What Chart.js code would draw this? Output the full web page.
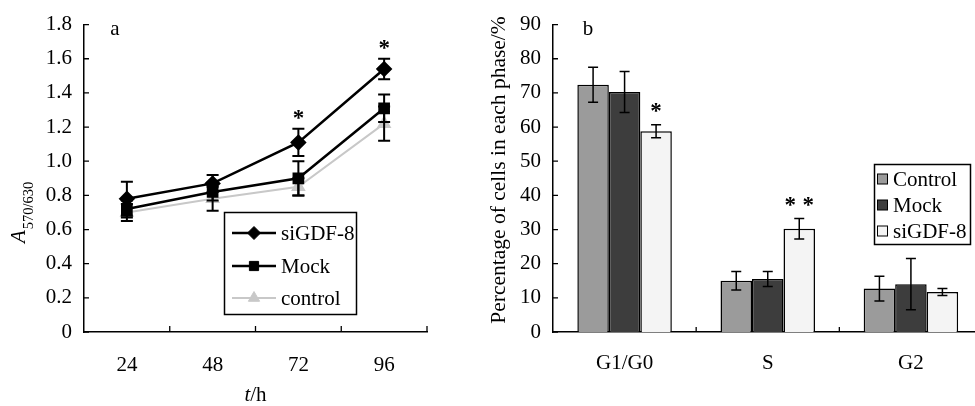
<!DOCTYPE html>
<html><head><meta charset="utf-8">
<script src="https://cdn.jsdelivr.net/npm/chart.js@4.4.0/dist/chart.umd.min.js"></script>
<style>
html,body{margin:0;padding:0;background:#fff;overflow:hidden;width:975px;height:406px;}
#wa{position:absolute;left:0;top:0;width:480px;height:406px;}
#wb{position:absolute;left:480px;top:0;width:510px;height:406px;}
</style></head><body>
<div id="wa"><canvas id="ca"></canvas></div>
<div id="wb"><canvas id="cb"></canvas></div>
<script>
// ---- Panel a data ----
const timeLabels = ['24','48','72','96'];
const siGDF8Line = [0.78, 0.87, 1.11, 1.54];
const siGDF8LineErr = [0.10, 0.05, 0.08, 0.06];
const mockLine = [0.72, 0.82, 0.90, 1.31];
const mockLineErr = [0.05, 0.05, 0.10, 0.08];
const controlLine = [0.70, 0.78, 0.85, 1.22];
const controlLineErr = [0.05, 0.07, 0.05, 0.10];
const lineStars = [[0, 2, 1], [0, 3, 1]]; // dataset, point, count

// ---- Panel b data ----
const phaseLabels = ['G1/G0', 'S', 'G2'];
const controlPct = [72.4, 15.0, 12.7];
const controlPctErr = [5.1, 2.7, 3.6];
const mockPct = [70.3, 15.5, 14.0];
const mockPctErr = [6.0, 2.2, 7.5];
const siGDF8Pct = [58.8, 30.2, 11.7];
const siGDF8PctErr = [1.9, 3.0, 1.0];
const barStars = [[2, 0, 1], [2, 1, 2]];

const FONT = "'Liberation Serif','Times New Roman',serif";
const FS = 21;
Chart.defaults.font.family = FONT;
Chart.defaults.color = '#000';

function drawErrBars(chart, cap, lw) {
  const ctx = chart.ctx, ys = chart.scales.y;
  chart.data.datasets.forEach((ds, di) => {
    if (!ds.err) return;
    const meta = chart.getDatasetMeta(di);
    ctx.save(); ctx.strokeStyle = '#000'; ctx.lineWidth = lw;
    meta.data.forEach((el, i) => {
      const v = ds.data[i], e = ds.err[i];
      const x = el.x, y1 = ys.getPixelForValue(v + e), y2 = ys.getPixelForValue(v - e);
      ctx.beginPath();
      ctx.moveTo(x, y1); ctx.lineTo(x, y2);
      ctx.moveTo(x - cap / 2, y1); ctx.lineTo(x + cap / 2, y1);
      ctx.moveTo(x - cap / 2, y2); ctx.lineTo(x + cap / 2, y2);
      ctx.stroke();
    });
    ctx.restore();
  });
}
function drawInwardTicks(chart, ylen, xlen) {
  const ctx = chart.ctx, ca = chart.chartArea, xs = chart.scales.x, ys = chart.scales.y;
  ctx.save(); ctx.strokeStyle = '#000'; ctx.lineWidth = 1.3; ctx.beginPath();
  ys.ticks.forEach((t, i) => {
    const y = ys.getPixelForTick(i);
    ctx.moveTo(ca.left, y); ctx.lineTo(ca.left + ylen, y);
  });
  const n = xs.ticks.length;
  for (let i = 1; i <= n; i++) {
    const x = i < n ? (xs.getPixelForTick(i - 1) + xs.getPixelForTick(i)) / 2 : ca.right;
    ctx.moveTo(x, ca.bottom); ctx.lineTo(x, ca.bottom - xlen);
  }
  ctx.stroke(); ctx.restore();
}
function drawStars(chart, stars, gap, font, spacing) {
  const ctx = chart.ctx, ys = chart.scales.y;
  ctx.save(); ctx.font = font; ctx.fillStyle = '#000'; ctx.textAlign = 'center'; ctx.textBaseline = 'alphabetic';
  const m = ctx.measureText('*');
  const off = (m.actualBoundingBoxAscent - m.actualBoundingBoxDescent) / 2;
  stars.forEach(([di, i, count]) => {
    const ds = chart.data.datasets[di];
    const el = chart.getDatasetMeta(di).data[i];
    const yc = ys.getPixelForValue(ds.data[i] + ds.err[i]) - gap;
    for (let k = 0; k < count; k++) {
      const x = el.x + (k - (count - 1) / 2) * spacing;
      ctx.fillText('*', x, yc + off);
    }
  });
  ctx.restore();
}

// ---------- Chart a ----------
const pluginA = {
  id: 'pa',
  afterDatasetsDraw(chart) {
    drawErrBars(chart, 12, 2);
  },
  afterDraw(chart) {
    const ctx = chart.ctx, ca = chart.chartArea;
    drawInwardTicks(chart, 5, 6);
    drawStars(chart, lineStars, 14, 'bold 23px ' + FONT, 0);
    ctx.save();
    ctx.fillStyle = '#000';
    ctx.font = FS + 'px ' + FONT; ctx.textBaseline = 'middle'; ctx.textAlign = 'center';
    ctx.fillText('a', 115, 29);
    // x title t/h
    ctx.textAlign = 'left';
    ctx.font = 'italic ' + FS + 'px ' + FONT;
    const wt = ctx.measureText('t').width;
    ctx.font = FS + 'px ' + FONT;
    const wh = ctx.measureText('/h').width;
    const cx = (ca.left + ca.right) / 2, x0 = cx - (wt + wh) / 2;
    ctx.font = 'italic ' + FS + 'px ' + FONT; ctx.fillText('t', x0, 395);
    ctx.font = FS + 'px ' + FONT; ctx.fillText('/h', x0 + wt, 395);
    // y title A570/630
    ctx.save();
    ctx.translate(25, 243); ctx.rotate(-Math.PI / 2);
    ctx.textBaseline = 'alphabetic'; ctx.textAlign = 'left';
    ctx.font = 'italic ' + FS + 'px ' + FONT; ctx.fillText('A', 0, 0);
    const wa = ctx.measureText('A').width;
    ctx.font = '14.5px ' + FONT; ctx.fillText('570/630', wa + 1, 8);
    ctx.restore();
    // legend
    ctx.strokeStyle = '#000'; ctx.lineWidth = 1.5;
    ctx.strokeRect(224.5, 212.5, 132, 102);
    const rows = [233, 266, 298];
    chart.data.datasets.forEach((ds, di) => {
      const y = rows[di];
      ctx.strokeStyle = ds.borderColor; ctx.lineWidth = ds.borderWidth;
      ctx.beginPath(); ctx.moveTo(232, y); ctx.lineTo(276, y); ctx.stroke();
      ctx.fillStyle = ds.pointBackgroundColor; ctx.strokeStyle = ds.pointBorderColor; ctx.lineWidth = 1;
      Chart.helpers.drawPoint(ctx, { pointStyle: ds.pointStyle, radius: ds.pointRadius, rotation: 0, borderWidth: 1 }, 254, y);
      ctx.fillStyle = '#000'; ctx.font = FS + 'px ' + FONT; ctx.textBaseline = 'middle'; ctx.textAlign = 'left';
      ctx.fillText(ds.label, 281, y + 1);
    });
    ctx.restore();
  }
};

new Chart(document.getElementById('ca'), {
  type: 'line',
  data: {
    labels: timeLabels,
    datasets: [
      { label: 'siGDF-8', data: siGDF8Line, err: siGDF8LineErr, borderColor: '#000', borderWidth: 2.5,
        pointStyle: 'rectRot', pointRadius: 6.5, pointBackgroundColor: '#000', pointBorderColor: '#000', order: 1 },
      { label: 'Mock', data: mockLine, err: mockLineErr, borderColor: '#000', borderWidth: 2.5,
        pointStyle: 'rect', pointRadius: 6.5, pointBackgroundColor: '#000', pointBorderColor: '#000', order: 2 },
      { label: 'control', data: controlLine, err: controlLineErr, borderColor: '#c8c8c8', borderWidth: 2,
        pointStyle: 'triangle', pointRadius: 6.5, pointBackgroundColor: '#c8c8c8', pointBorderColor: '#c8c8c8', order: 3 }
    ]
  },
  options: {
    animation: false, responsive: true, maintainAspectRatio: false,
    layout: { padding: { top: 21, right: 53, bottom: 0, left: 0 } },
    plugins: { legend: { display: false }, tooltip: { enabled: false } },
    scales: {
      x: {
        type: 'category', offset: true,
        grid: { display: false, drawTicks: false },
        border: { display: true, color: '#000', width: 1.5 },
        ticks: { font: { size: FS }, padding: 21, color: '#000' },
        afterFit(s) { s.height = 74; }
      },
      y: {
        min: 0, max: 1.8,
        grid: { display: false, drawTicks: false },
        border: { display: true, color: '#000', width: 1.5 },
        ticks: { stepSize: 0.2, font: { size: FS }, padding: 12, color: '#000',
          callback: v => (Math.abs(v) < 1e-9 ? '0' : Number(v).toFixed(1)) },
        afterFit(s) { s.width = 84; }
      }
    }
  },
  plugins: [pluginA]
});

// ---------- Chart b ----------
const pluginB = {
  id: 'pb',
  afterDatasetsDraw(chart) {
    drawErrBars(chart, 10, 1.5);
  },
  afterDraw(chart) {
    const ctx = chart.ctx, ca = chart.chartArea;
    drawInwardTicks(chart, 5, 5);
    drawStars(chart, barStars, 17, 'bold 23px ' + FONT, 18);
    ctx.save();
    ctx.fillStyle = '#000';
    ctx.font = FS + 'px ' + FONT; ctx.textBaseline = 'middle'; ctx.textAlign = 'center';
    ctx.fillText('b', 108, 29);
    // y title
    ctx.save();
    ctx.translate(19, 170); ctx.rotate(-Math.PI / 2);
    ctx.font = '21.5px ' + FONT;
    ctx.fillText('Percentage of cells in each phase/%', 0, 0);
    ctx.restore();
    // legend
    ctx.strokeStyle = '#000'; ctx.lineWidth = 1.5;
    ctx.strokeRect(394.5, 164.5, 96, 80);
    const rows = [179, 205, 231];
    chart.data.datasets.forEach((ds, di) => {
      const y = rows[di];
      ctx.fillStyle = ds.backgroundColor; ctx.fillRect(397.5, y - 5, 10, 10);
      ctx.strokeStyle = '#000'; ctx.lineWidth = 1; ctx.strokeRect(397.5, y - 5, 10, 10);
      ctx.fillStyle = '#000'; ctx.font = FS + 'px ' + FONT; ctx.textBaseline = 'middle'; ctx.textAlign = 'left';
      ctx.fillText(ds.label, 413, y + 1);
    });
    ctx.restore();
  }
};

new Chart(document.getElementById('cb'), {
  type: 'bar',
  data: {
    labels: phaseLabels,
    datasets: [
      { label: 'Control', data: controlPct, err: controlPctErr, backgroundColor: '#9b9b9b', borderColor: '#000', borderWidth: 1.5 },
      { label: 'Mock', data: mockPct, err: mockPctErr, backgroundColor: '#3d3d3d', borderColor: '#000', borderWidth: 1.5 },
      { label: 'siGDF-8', data: siGDF8Pct, err: siGDF8PctErr, backgroundColor: '#f4f4f4', borderColor: '#000', borderWidth: 1.5 }
    ]
  },
  options: {
    animation: false, responsive: true, maintainAspectRatio: false,
    datasets: { bar: { categoryPercentage: 0.66, barPercentage: 1.0 } },
    layout: { padding: { top: 14, right: 7.5, bottom: 0, left: 0 } },
    plugins: { legend: { display: false }, tooltip: { enabled: false } },
    scales: {
      x: {
        grid: { display: false, drawTicks: false },
        border: { display: true, color: '#000', width: 1.5 },
        ticks: { font: { size: FS }, padding: 19, color: '#000' },
        afterFit(s) { s.height = 74; }
      },
      y: {
        min: 0, max: 90,
        grid: { display: false, drawTicks: false },
        border: { display: true, color: '#000', width: 1.5 },
        ticks: { stepSize: 10, font: { size: FS }, padding: 12, color: '#000' },
        afterFit(s) { s.width = 73; }
      }
    }
  },
  plugins: [pluginB]
});
</script>
</body></html>
